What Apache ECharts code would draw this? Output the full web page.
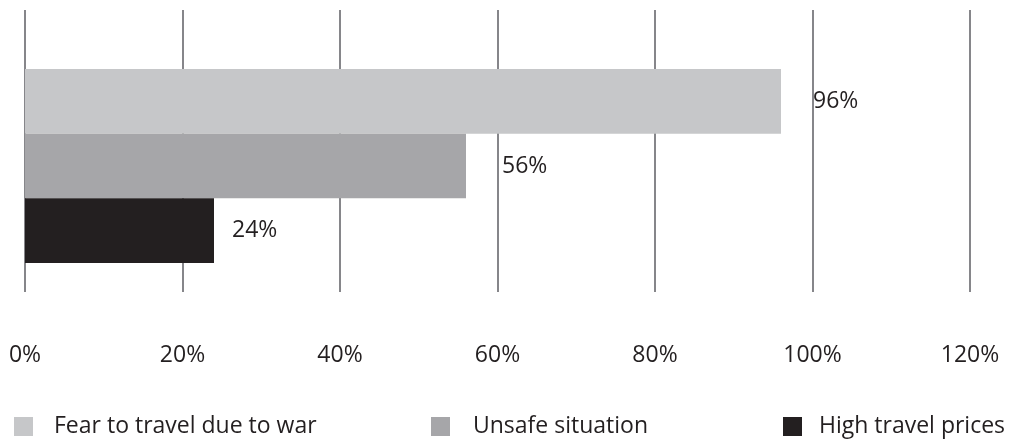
<!DOCTYPE html>
<html><head><meta charset="utf-8">
<script src="https://cdn.jsdelivr.net/npm/echarts@6/dist/echarts.min.js"></script>
<style>html,body{margin:0;padding:0;background:#fff}#c{width:1011px;height:441px}</style>
</head><body><div id="c"></div>
<script>
const seriesNames = ['Fear to travel due to war', 'Unsafe situation', 'High travel prices'];
const seriesValues = [96, 56, 24];
const xTicks = [0, 20, 40, 60, 80, 100, 120];
const colors = ['#C6C7C9', '#A6A6A9', '#231F20'];
const labelDist = [32, 36, 18];
const font = '"Open Sans", "Noto Sans", sans-serif';
const fs = 23;

const chart = echarts.init(document.getElementById('c'));
const series = seriesNames.map((n, i) => ({
  name: n, type: 'bar', xAxisIndex: 1, yAxisIndex: 1,
  data: [seriesValues[i]], barGap: '0%', barCategoryGap: '23%',
  itemStyle: { color: colors[i] },
  label: { show: true, position: 'right', distance: labelDist[i], formatter: '{c}%',
    color: '#231F20', fontSize: fs, fontFamily: font },
  emphasis: { disabled: true }, animation: false
}));
series.push({ type: 'bar', xAxisIndex: 0, yAxisIndex: 0, data: [], silent: true });
const legendLeft = [14, 431, 783];
const legendPad = [16, 18, 12];
const legends = legendLeft.map((l, i) => ({
  data: [seriesNames[i]], left: l, top: 415, padding: 0, icon: 'rect', itemWidth: 19, itemHeight: 19,
  textStyle: { fontSize: fs, fontFamily: font, color: '#231F20', padding: [0, 0, 0, legendPad[i]] },
  selectedMode: false
}));
chart.setOption({
  animation: false,
  legend: legends,
  grid: [
    { left: 25, right: 41, top: 10, height: 282 },
    { left: 25, right: 41, top: 40, height: 252 }
  ],
  xAxis: [
    { type: 'value', gridIndex: 0, min: xTicks[0], max: xTicks[xTicks.length - 1], interval: 20,
      axisLine: { show: false }, axisTick: { show: false },
      splitLine: { show: true, lineStyle: { color: '#86868A', width: 2 } },
      axisLabel: { formatter: '{value}%', fontSize: fs, fontFamily: font, color: '#231F20', margin: 52 } },
    { type: 'value', gridIndex: 1, min: xTicks[0], max: xTicks[xTicks.length - 1], show: false }
  ],
  yAxis: [
    { type: 'category', gridIndex: 0, data: [''], show: false },
    { type: 'category', gridIndex: 1, data: [''], show: false }
  ],
  series: series
});
</script></body></html>
